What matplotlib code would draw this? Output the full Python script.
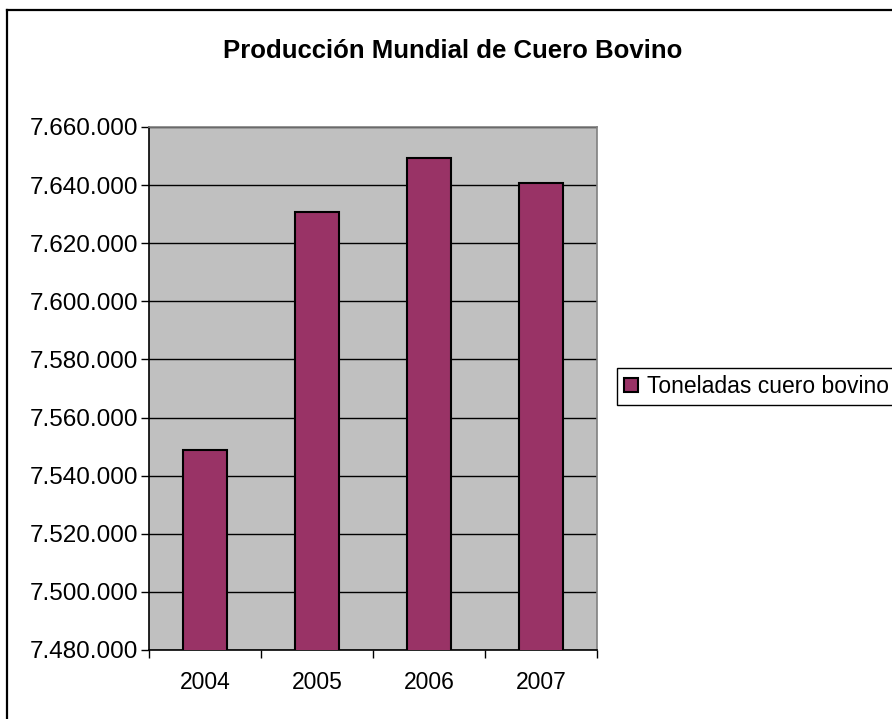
import matplotlib
matplotlib.use('Agg')
import matplotlib.pyplot as plt
from matplotlib.ticker import FuncFormatter, FixedLocator, NullFormatter
from matplotlib.lines import Line2D
import numpy as np

years = ['2004', '2005', '2006', '2007']
toneladas = [7548700, 7630800, 7649400, 7640800]
y_ticks = list(range(7480000, 7660001, 20000))
title = 'Producción Mundial de Cuero Bovino'
series_label = 'Toneladas cuero bovino'

plt.rcParams['font.family'] = ['Liberation Sans', 'DejaVu Sans']

W, H = 892, 719
fig = plt.figure(figsize=(W / 100, H / 100), dpi=100)
fig.patch.set_facecolor('white')

# outer chart border (top and left visible)
fig.add_artist(Line2D([7 / W, 7 / W], [0, 1 - 10 / H], color='black', lw=1.6, transform=fig.transFigure))
fig.add_artist(Line2D([7 / W, 1], [1 - 10 / H, 1 - 10 / H], color='black', lw=1.6, transform=fig.transFigure))

L, R, T, B = 149, 597, 127, 650
ax = fig.add_axes([L / W, 1 - B / H, (R - L) / W, (B - T) / H])
x = np.arange(len(years))
ax.bar(x, toneladas, width=0.4, color='#993366', edgecolor='black', linewidth=1.5,
       zorder=3, label=series_label)
ax.set_xlim(-0.5, len(years) - 0.5)
ax.set_ylim(y_ticks[0], y_ticks[-1])
ax.set_facecolor('#C0C0C0')

ax.set_yticks(y_ticks)
ax.yaxis.set_major_formatter(FuncFormatter(lambda v, p: f"{int(round(v)):,}".replace(',', '.')))
ax.grid(axis='y', color='black', linewidth=1.0, zorder=1)
ax.set_axisbelow(True)

ax.xaxis.set_major_locator(FixedLocator(np.arange(-0.5, len(years), 1.0)))
ax.xaxis.set_major_formatter(NullFormatter())
ax.xaxis.set_minor_locator(FixedLocator(x))
ax.set_xticklabels(years, minor=True)
ax.tick_params(axis='x', which='major', direction='out', length=6, width=1, color='black')
ax.tick_params(axis='x', which='minor', length=0, pad=15, labelsize=16.5)
ax.tick_params(axis='y', direction='out', length=6, width=1, color='black', pad=1.5, labelsize=17.5)

for s in ['top', 'right']:
    ax.spines[s].set_color('#808080')
    ax.spines[s].set_linewidth(1.2)
for s in ['left', 'bottom']:
    ax.spines[s].set_color('black')
    ax.spines[s].set_linewidth(1.2)

fig.text(453 / W, 1 - 58 / H, title, ha='center', va='baseline', fontsize=18.5, fontweight='bold')

leg = fig.legend(loc='upper left', bbox_to_anchor=(617 / W, 1 - 368 / H), fontsize=16.5,
                 frameon=True, fancybox=False, edgecolor='black', framealpha=1,
                 handlelength=0.6, handleheight=0.6, handletextpad=0.4,
                 borderpad=0.3, borderaxespad=0)
leg.get_frame().set_linewidth(1.0)

fig.savefig('out.png', dpi=100, facecolor='white')
